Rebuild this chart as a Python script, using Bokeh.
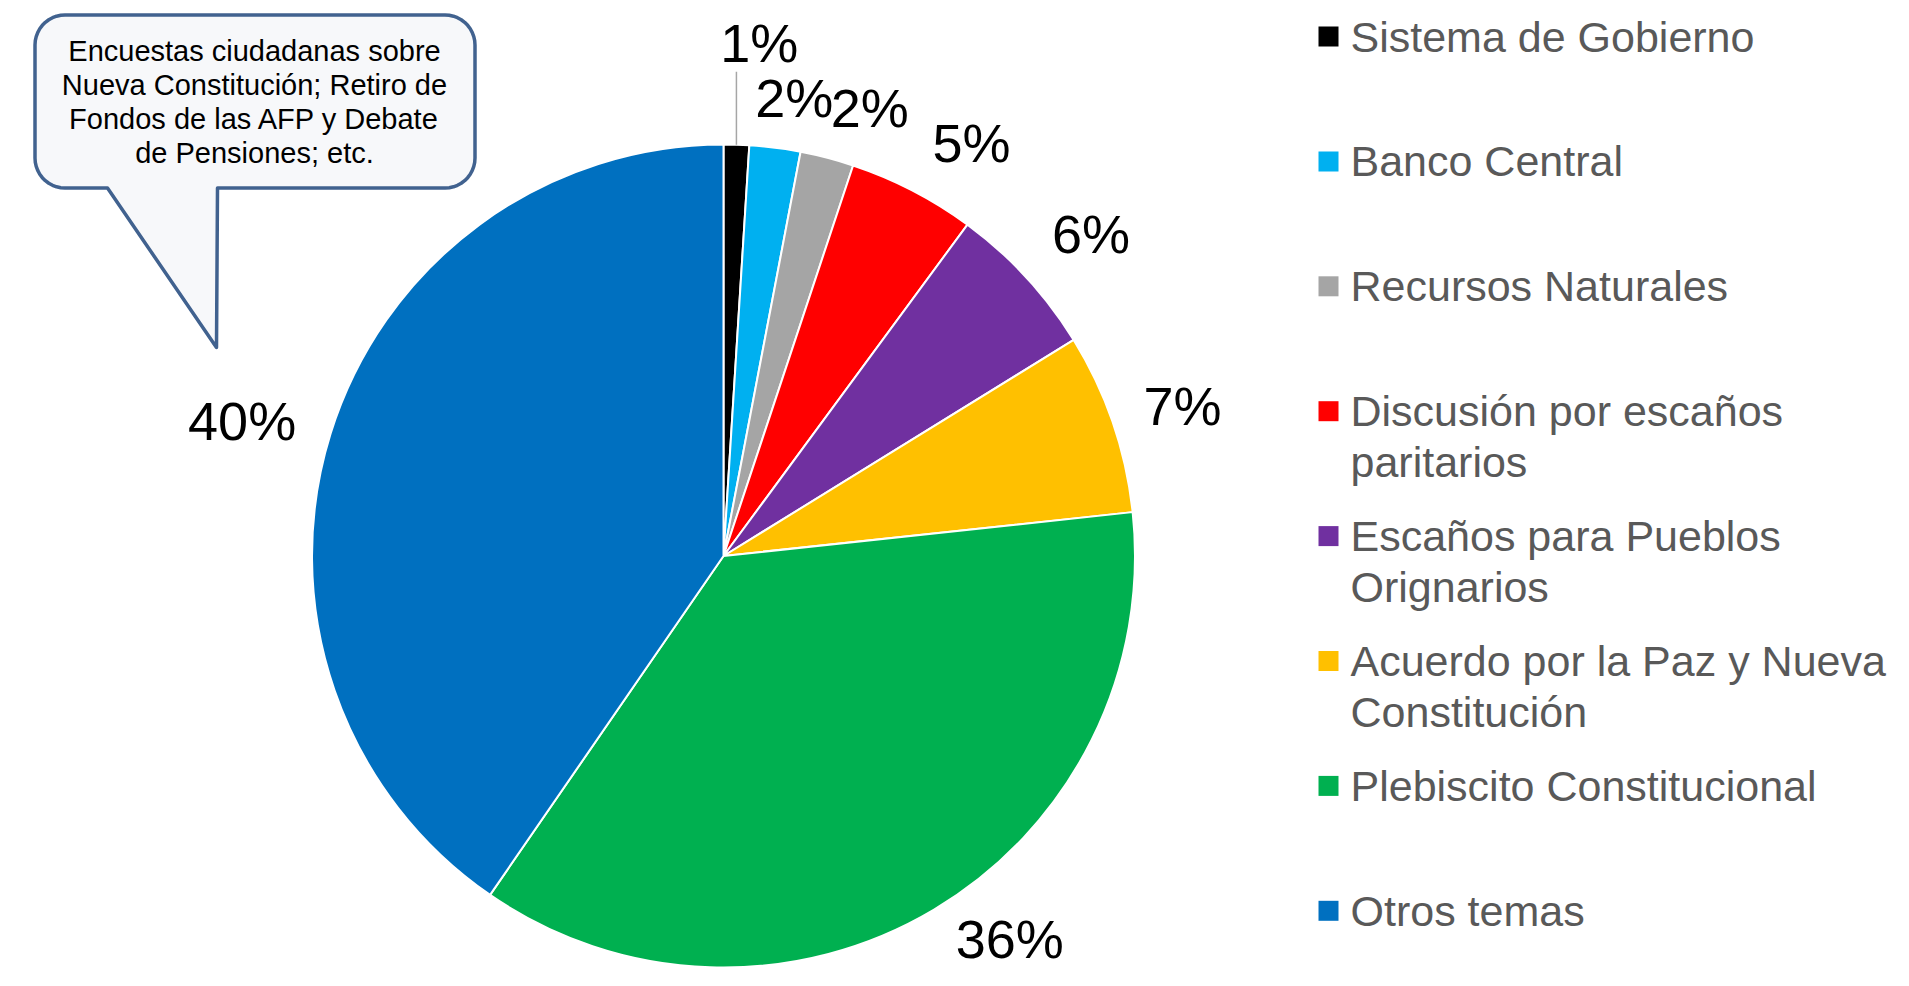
import math
import textwrap
import numpy as np
from bokeh.plotting import figure
from bokeh.models import Range1d, ColumnDataSource
from bokeh.core.properties import value
from bokeh.embed import file_html
from bokeh.resources import INLINE

# ---------------- data ----------------
categories = [
    "Sistema de Gobierno",
    "Banco Central",
    "Recursos Naturales",
    "Discusión por escaños paritarios",
    "Escaños para Pueblos Orignarios",
    "Acuerdo por la Paz y Nueva Constitución",
    "Plebiscito Constitucional",
    "Otros temas",
]
shares = [1.0, 2.0, 2.1, 5.0, 6.1, 7.1, 36.3, 40.4]
colors = ["#000000", "#00B0F0", "#A5A5A5", "#FF0000", "#7030A0", "#FFC000", "#00B050", "#0070C0"]
callout_lines = [
    "Encuestas ciudadanas sobre",
    "Nueva Constitución; Retiro de",
    "Fondos de las AFP y Debate",
    "de Pensiones; etc.",
]

# ---------------- styling / layout ----------------
label_nudge_deg = [2.2, 1.6, 3.5, 3.6, 1.4, 0.8, -6.0, -1.6]
label_dist = [514, 463, 471, 482, 489, 483, 478, 500]
FONT = "Liberation Sans"

W, H = 1893, 970


def Y(sy):
    return H - sy


p = figure(width=W, height=H, x_range=Range1d(0, W), y_range=Range1d(0, H),
           output_backend="svg", toolbar_location=None, min_border=0)
p.axis.visible = False
p.grid.visible = False
p.outline_line_color = None
p.background_fill_color = "white"
p.border_fill_color = "white"

CX, CY, R = 723, Y(555.5), 411.5

vals = np.array(shares, dtype=float)
frac = vals / vals.sum()
cum = np.cumsum(frac)
start_deg = np.concatenate([[0], cum[:-1]]) * 360
end_deg = cum * 360
mid_deg = (start_deg + end_deg) / 2

src = ColumnDataSource(dict(
    cat=categories, val=shares, color=colors,
    start=np.radians(90 - start_deg), end=np.radians(90 - end_deg),
))
p.wedge(x=CX, y=CY, radius=R, start_angle="start", end_angle="end", direction="clock",
        fill_color="color", line_color="white", line_width=2, source=src)

# percentage labels
la = np.radians(mid_deg + np.array(label_nudge_deg))
ld = np.array(label_dist, dtype=float)
lx = CX + ld * np.sin(la)
ly = CY + ld * np.cos(la)
ltxt = [f"{round(v):.0f}%" for v in shares]
p.text(x=lx, y=ly, text=ltxt, text_font=value(FONT), text_font_size="54px",
       text_color="#000000", text_align="center", text_baseline="middle")

# leader line for the smallest slice
m0 = math.radians(mid_deg[0])
ex = CX + R * math.sin(m0)
ey = CY + R * math.cos(m0)
p.segment(x0=[ex], y0=[ey], x1=[ex], y1=[ly[0] - 28.5], line_color="#A6A6A6", line_width=1.5)

# legend (manual)
row0, row_step, line_step = 36, 124.9, 50.5
sq_x, sq_size, txt_x = 1328, 20, 1350
tx, ty, tt = [], [], []
for i, cat in enumerate(categories):
    cy = row0 + row_step * i
    for j, line in enumerate(textwrap.wrap(cat, 26)):
        tx.append(txt_x)
        ty.append(Y(cy + j * line_step))
        tt.append(line)
p.rect(x=[sq_x] * len(categories), y=[Y(row0 + row_step * i) for i in range(len(categories))],
       width=sq_size, height=sq_size, fill_color=colors, line_color=None)
p.text(x=tx, y=ty, text=tt, text_font=value(FONT), text_font_size="43px",
       text_color="#595959", text_align="left", text_baseline="middle")


# callout bubble
def arc(cx, cy, r, a0, a1, n=12):
    a = np.radians(np.linspace(a0, a1, n))
    return list(cx + r * np.cos(a)), list(cy + r * np.sin(a))


L, Rr, T, B, rad = 34.5, 474.5, 14.5, 187.5, 30
tail_l, tail_r, tip = 107, 217, (216, 347)
xs, ys = [], []
for (cx_, cy_, a0, a1) in [(Rr - rad, T + rad, -90, 0), (Rr - rad, B - rad, 0, 90)]:
    ax, ay = arc(cx_, cy_, rad, a0, a1)
    xs += ax; ys += ay
xs += [tail_r, tip[0], tail_l]
ys += [B, tip[1], B]
for (cx_, cy_, a0, a1) in [(L + rad, B - rad, 90, 180), (L + rad, T + rad, 180, 270)]:
    ax, ay = arc(cx_, cy_, rad, a0, a1)
    xs += ax; ys += ay
p.patch(x=xs, y=[Y(v) for v in ys], fill_color="#F7F8FA", line_color="#41628F",
        line_width=3.5, line_join="round")

cl_y = [Y(50 + 34.3 * i) for i in range(len(callout_lines))]
p.text(x=[254] * len(callout_lines), y=cl_y, text=callout_lines, text_font=value(FONT),
       text_font_size="29px", text_color="#000000", text_align="center", text_baseline="middle")

open("out.html", "w").write(file_html(p, INLINE))
